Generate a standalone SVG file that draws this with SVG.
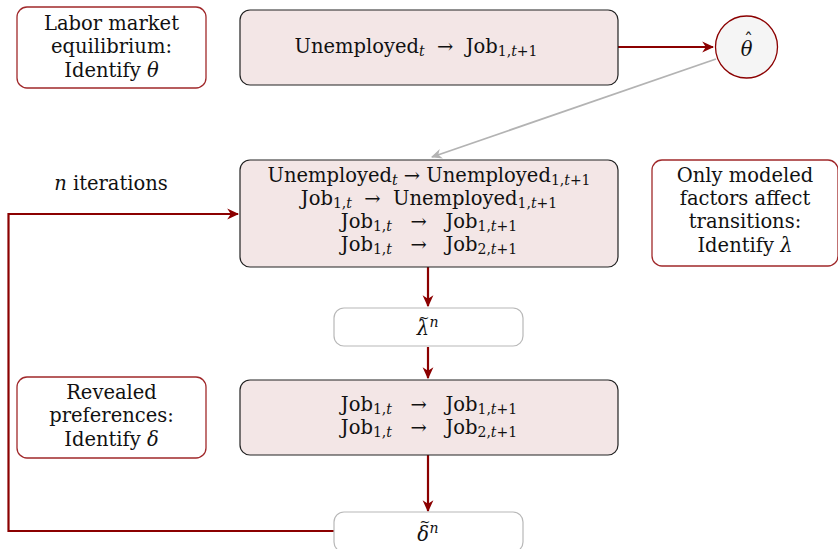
<svg xmlns="http://www.w3.org/2000/svg" width="838" height="549" viewBox="0 0 838 549">
<style>
.t{font-family:"DejaVu Serif","Liberation Serif","Noto Serif",serif;font-size:19.5px;fill:#111;text-anchor:middle}
.i{font-style:italic}
.s{font-size:14px}
.n{font-style:normal}
.note{fill:#fff;stroke:#a0282a;stroke-width:1.3}
.main{fill:#f3e6e6;stroke:#222;stroke-width:1.2}
.res{fill:#fff;stroke:#b8b8b8;stroke-width:1.2}
.red{fill:none;stroke:#8b0000;stroke-width:2.2}
.gray{fill:none;stroke:#b3b3b3;stroke-width:1.8}
</style>
<defs>
<marker id="ar" viewBox="0 0 10 10" refX="9" refY="5" markerWidth="12" markerHeight="12" markerUnits="userSpaceOnUse" orient="auto">
<path d="M0,0.5 L10,5 L0,9.5 L3,5 Z" fill="#8b0000"/>
</marker>
<marker id="ag" viewBox="0 0 10 10" refX="9" refY="5" markerWidth="11" markerHeight="11" markerUnits="userSpaceOnUse" orient="auto">
<path d="M0,0.5 L10,5 L0,9.5 L3,5 Z" fill="#b3b3b3"/>
</marker>
</defs>

<g id="connectors">
<path class="red" d="M618,47 H713" marker-end="url(#ar)"/>
<path class="gray" d="M716,59 L432,157" marker-end="url(#ag)"/>
<path class="red" d="M428,267 V306" marker-end="url(#ar)"/>
<path class="red" d="M428,347 V378" marker-end="url(#ar)"/>
<path class="red" d="M428,455 V511" marker-end="url(#ar)"/>
<path class="red" d="M334,531 H8.5 V214 H238" marker-end="url(#ar)"/>
</g>

<g id="note-theta">
<rect class="note" x="17" y="7" width="189" height="81" rx="10"/>
<text class="t" x="111.5" y="30">Labor market</text>
<text class="t" x="111.5" y="53">equilibrium:</text>
<text class="t" x="111.5" y="77">Identify <tspan class="i">θ</tspan></text>
</g>

<g id="node-unemp-job">
<rect class="main" x="240" y="10" width="378" height="75" rx="10"/>
<text class="t" x="416" y="53">Unemployed<tspan class="s i" dy="3">t</tspan><tspan dy="-3">&#160;&#160;→&#160;&#160;Job</tspan><tspan class="s" dy="3">1,<tspan class="i">t</tspan>+1</tspan></text>
</g>

<g id="node-theta-hat">
<circle cx="746.5" cy="47" r="31" fill="#f5f5f5" stroke="#8b0000" stroke-width="1.3"/>
<text class="t i" x="746.5" y="56">θ<tspan class="n" x="748.5" y="47" font-size="18">ˆ</tspan></text>
</g>

<g id="label-iterations">
<text class="t" x="111" y="190"><tspan class="i">n</tspan> iterations</text>
</g>

<g id="node-all-transitions">
<rect class="main" x="240" y="160" width="378" height="107" rx="10"/>
<text class="t" x="429" y="182">Unemployed<tspan class="s i" dy="3">t</tspan><tspan dy="-3"> → Unemployed</tspan><tspan class="s" dy="3">1,<tspan class="i">t</tspan>+1</tspan></text>
<text class="t" x="429" y="205">Job<tspan class="s" dy="3">1,<tspan class="i">t</tspan></tspan><tspan dy="-3">&#160;&#160;→&#160;&#160;Unemployed</tspan><tspan class="s" dy="3">1,<tspan class="i">t</tspan>+1</tspan></text>
<text class="t" x="429" y="228">Job<tspan class="s" dy="3">1,<tspan class="i">t</tspan></tspan><tspan dy="-3">&#160;&#160;&#160;→&#160;&#160;&#160;Job</tspan><tspan class="s" dy="3">1,<tspan class="i">t</tspan>+1</tspan></text>
<text class="t" x="429" y="251">Job<tspan class="s" dy="3">1,<tspan class="i">t</tspan></tspan><tspan dy="-3">&#160;&#160;&#160;→&#160;&#160;&#160;Job</tspan><tspan class="s" dy="3">2,<tspan class="i">t</tspan>+1</tspan></text>
</g>

<g id="note-lambda">
<rect class="note" x="652" y="160" width="186" height="106" rx="10"/>
<text class="t" x="745" y="182">Only modeled</text>
<text class="t" x="745" y="205">factors affect</text>
<text class="t" x="745" y="228">transitions:</text>
<text class="t" x="745" y="252">Identify <tspan class="i">λ</tspan></text>
</g>

<g id="node-lambda-tilde">
<rect class="res" x="334" y="308" width="189" height="38" rx="10"/>
<text class="t i" x="423" y="335">λ<tspan class="n" x="424" y="322" font-size="13">~</tspan><tspan class="s" x="434" y="327">n</tspan></text>
</g>

<g id="note-delta">
<rect class="note" x="17" y="377" width="189" height="81" rx="10"/>
<text class="t" x="111.5" y="399">Revealed</text>
<text class="t" x="111.5" y="422">preferences:</text>
<text class="t" x="111.5" y="446">Identify <tspan class="i">δ</tspan></text>
</g>

<g id="node-job-transitions">
<rect class="main" x="240" y="380" width="378" height="75" rx="10"/>
<text class="t" x="429" y="411">Job<tspan class="s" dy="3">1,<tspan class="i">t</tspan></tspan><tspan dy="-3">&#160;&#160;&#160;→&#160;&#160;&#160;Job</tspan><tspan class="s" dy="3">1,<tspan class="i">t</tspan>+1</tspan></text>
<text class="t" x="429" y="434">Job<tspan class="s" dy="3">1,<tspan class="i">t</tspan></tspan><tspan dy="-3">&#160;&#160;&#160;→&#160;&#160;&#160;Job</tspan><tspan class="s" dy="3">2,<tspan class="i">t</tspan>+1</tspan></text>
</g>

<g id="node-delta-tilde">
<rect class="res" x="334" y="512" width="189" height="40" rx="10"/>
<text class="t i" x="423" y="541">δ<tspan class="n" x="425" y="526" font-size="13">~</tspan><tspan class="s" x="434" y="533">n</tspan></text>
</g>
</svg>
